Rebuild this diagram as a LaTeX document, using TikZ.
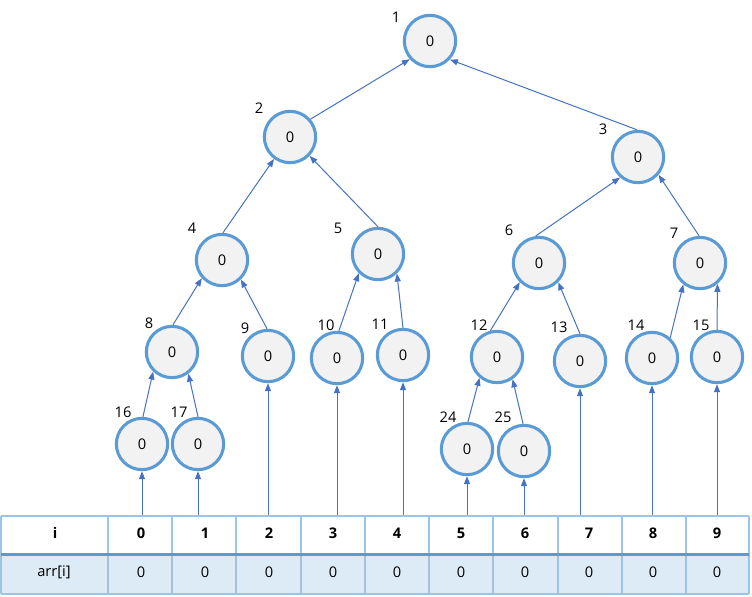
\documentclass[tikz,border=0pt]{standalone}
\usepackage{fontspec}
\setmainfont{Open Sans}
\usetikzlibrary{arrows.meta}
\definecolor{nodeblue}{HTML}{5B9BD5}
\definecolor{nodefill}{HTML}{F2F2F2}
\definecolor{arrowblue}{HTML}{4472C4}
\definecolor{gridblue}{HTML}{9DC3E6}
\definecolor{rowfill}{HTML}{DDEBF7}
\begin{document}
\begin{tikzpicture}[x=0.75pt,y=-0.75pt,
  tnode/.style={circle,draw=nodeblue,fill=nodefill,line width=2.3pt,minimum size=38.5pt,inner sep=0pt,font=\fontsize{11}{13}\selectfont},
  idx/.style={inner sep=0pt,font=\fontsize{11}{13}\selectfont},
  hdr/.style={inner sep=0pt,font=\fontsize{11}{13}\selectfont\bfseries},
  cell/.style={inner sep=0pt,font=\fontsize{11}{13}\selectfont},
  conn/.style={draw=arrowblue,line width=0.75pt,-{Triangle[length=6pt,width=4.5pt]}},
  grid/.style={draw=gridblue,line width=1.2pt},
  midline/.style={draw=nodeblue,line width=2pt}
]
\useasboundingbox (0,0) rectangle (752,596);

% ---------- table ----------
\fill[white] (1,516) rectangle (749,554);
\fill[rowfill] (1,555) rectangle (749,594);
\draw[grid] (1,516) -- (749,516);
\draw[grid] (1,594) -- (749,594);
\foreach \x in {1,108,172,236,301,365,429,493,558,622,686,749}
  \draw[grid] (\x,516) -- (\x,594);
\draw[midline] (1,554.5) -- (749,554.5);

\node[hdr] (hi) at (55,533) {i};
\node[cell] (ai) at (54,572) {arr[i]};
\foreach \v/\x in {0/141,1/205,2/269,3/333,4/397,5/461,6/525,7/589,8/653,9/717}{
  \node[hdr] (h\v) at (\x,533) {\v};
  \node[cell] (a\v) at (\x,572) {0};
}

% ---------- tree nodes ----------
\node[tnode] (n1) at (430,41) {0};
\node[tnode] (n2) at (290,137) {0};
\node[tnode] (n3) at (638,157) {0};
\node[tnode] (n4) at (222,260) {0};
\node[tnode] (n5) at (378,254) {0};
\node[tnode] (n6) at (539,263) {0};
\node[tnode] (n7) at (700,263) {0};
\node[tnode] (n8) at (172,352) {0};
\node[tnode] (n9) at (268,356) {0};
\node[tnode] (n10) at (337,358) {0};
\node[tnode] (n11) at (403,355) {0};
\node[tnode] (n12) at (497,357) {0};
\node[tnode] (n13) at (580,361) {0};
\node[tnode] (n14) at (652,358) {0};
\node[tnode] (n15) at (717,357) {0};
\node[tnode] (n16) at (142,444) {0};
\node[tnode] (n17) at (198,444) {0};
\node[tnode] (n24) at (467,449) {0};
\node[tnode] (n25) at (524,451) {0};

% ---------- index labels ----------
\node[idx] (l1) at (396,17) {1};
\node[idx] (l2) at (259,108) {2};
\node[idx] (l3) at (603,129) {3};
\node[idx] (l4) at (192,228) {4};
\node[idx] (l5) at (338,228) {5};
\node[idx] (l6) at (509,230) {6};
\node[idx] (l7) at (674,233) {7};
\node[idx] (l8) at (149,323) {8};
\node[idx] (l9) at (245,328) {9};
\node[idx] (l10) at (326,325) {10};
\node[idx] (l11) at (380,324) {11};
\node[idx] (l12) at (479,325) {12};
\node[idx] (l13) at (559,327) {13};
\node[idx] (l14) at (636,325) {14};
\node[idx] (l15) at (701,325) {15};
\node[idx] (l16) at (123,412) {16};
\node[idx] (l17) at (179,412) {17};
\node[idx] (l24) at (448,417) {24};
\node[idx] (l25) at (503,417) {25};

% ---------- tree connectors ----------
\draw[conn] (n2.41) -- (n1.-138);
\draw[conn] (n3.92) -- (n1.-43);
\draw[conn] (n4.88) -- (n2.-126);
\draw[conn] (n5.90) -- (n2.-44);
\draw[conn] (n6.97) -- (n3.-131);
\draw[conn] (n7.92) -- (n3.-41);
\draw[conn] (n8.88) -- (n4.-138);
\draw[conn] (n9.92) -- (n4.-46);
\draw[conn] (n10.86) -- (n5.-135);
\draw[conn] (n11.90) -- (n5.-46);
\draw[conn] (n12.104) -- (n6.-135);
\draw[conn] (n13.90) -- (n6.-45);
\draw[conn] (n14.48) -- (n7.-128);
\draw[conn] (n15.90) -- (n7.-50);
\draw[conn] (n16.88) -- (n8.-134);
\draw[conn] (n17.90) -- (n8.-53);
\draw[conn] (n24.88) -- (n12.-130);
\draw[conn] (n25.92) -- (n12.-55);

% ---------- table to leaves ----------
\foreach \n/\x in {16/142,17/198,9/268,10/337,11/403,24/467,25/524,13/580,14/652,15/717}{
  \coordinate (t\n) at (\x,515);
  \draw[conn] (t\n) -- (n\n.south);
}
\end{tikzpicture}
\end{document}
